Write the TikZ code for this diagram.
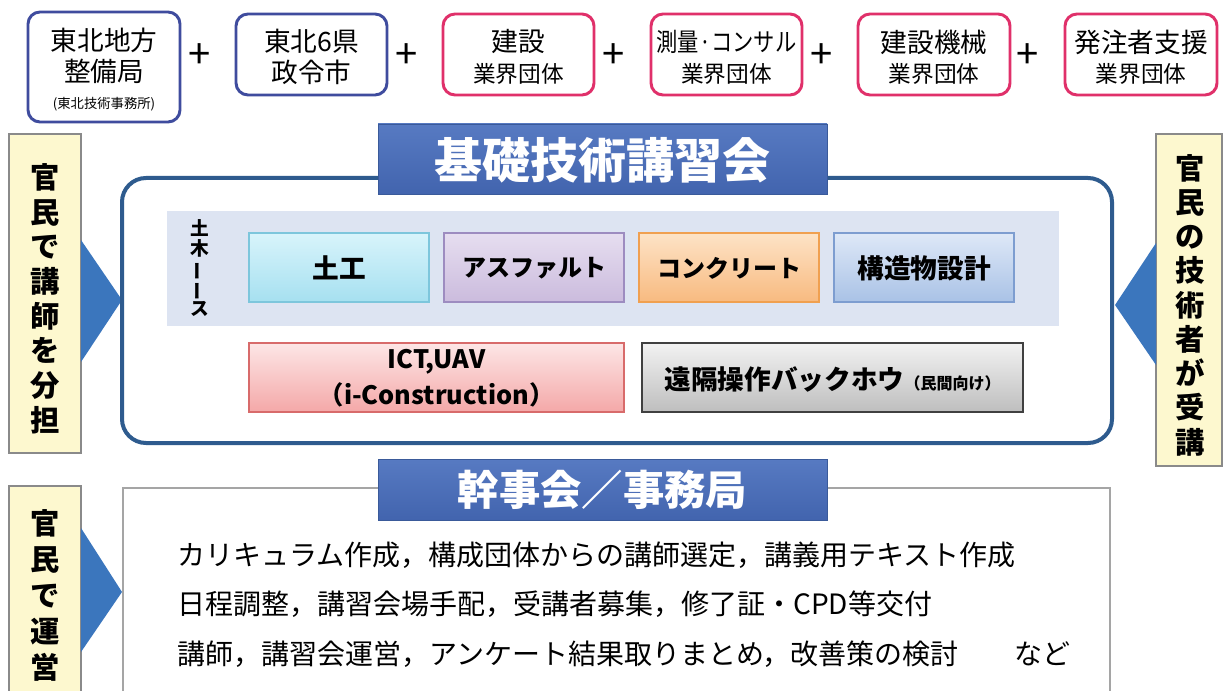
\documentclass[tikz,border=0pt]{standalone}
\usepackage{fontspec}
\usepackage{graphicx}
\newfontfamily\jp{Noto Sans CJK JP}
\usetikzlibrary{shapes.geometric}
\definecolor{tbblue}{HTML}{3F4C9E}
\definecolor{tbpink}{HTML}{E0306A}
\definecolor{ylfill}{HTML}{FDF8CF}
\definecolor{ylline}{HTML}{8A8A8A}
\definecolor{triblue}{HTML}{3B76BD}
\definecolor{mainline}{HTML}{2E5B8E}
\definecolor{bantop}{HTML}{577AC2}
\definecolor{banbot}{HTML}{4264AE}
\definecolor{banline}{HTML}{3A5A9A}
\definecolor{panel}{HTML}{DDE4F2}
\definecolor{dotop}{HTML}{D8F4FB}\definecolor{dobot}{HTML}{A6E0F0}\definecolor{doline}{HTML}{7DC6DC}
\definecolor{astop}{HTML}{E6DEF0}\definecolor{asbot}{HTML}{CBBBDD}\definecolor{asline}{HTML}{9D8CC0}
\definecolor{cotop}{HTML}{FDE3C6}\definecolor{cobot}{HTML}{F8BA80}\definecolor{coline}{HTML}{F0A050}
\definecolor{kotop}{HTML}{DEE8F7}\definecolor{kobot}{HTML}{A9C2E6}\definecolor{koline}{HTML}{7D9DD0}
\definecolor{ictop}{HTML}{FDE6E6}\definecolor{icbot}{HTML}{F4A8A8}\definecolor{icline}{HTML}{D86B6B}
\definecolor{entop}{HTML}{F2F2F2}\definecolor{enbot}{HTML}{BEBEBE}\definecolor{enline}{HTML}{404040}
\definecolor{grayline}{HTML}{A5A5A5}
\newcommand\fsz[2]{\fontsize{#1}{#2}\selectfont}
\tikzset{
  sz/.style 2 args={minimum width=#1*0.75pt, minimum height=#2*0.75pt, inner sep=0pt},
  topb/.style={draw=tbblue, line width=2.2pt, rounded corners=9pt, fill=white},
  topp/.style={draw=tbpink, line width=2.2pt, rounded corners=9pt, fill=white},
  txt/.style={inner sep=0pt, font=\jp, text=black},
  btxt/.style={inner sep=0pt, font=\jp\bfseries, text=black},
  plus/.style={inner sep=0pt, font=\jp\fsz{30}{34}},
  ybox/.style={draw=ylline, line width=1.2pt, fill=ylfill},
  tri/.style={fill=triblue, draw=none},
  mainbox/.style={draw=mainline, line width=3pt, rounded corners=18pt, fill=white},
  banner/.style={draw=banline, line width=0.6pt, top color=bantop, bottom color=banbot},
  course/.style n args={3}{draw=#3, line width=1.1pt, top color=#1, bottom color=#2},
  vtxt/.style={inner sep=0pt, align=center, font=\jp\bfseries, text=black},
}
\begin{document}
\begin{tikzpicture}[x=0.75pt,y=-0.75pt]
\useasboundingbox (0,0) rectangle (1227,691);
\fill[white] (0,0) rectangle (1227,691);

% ---- top row ----
\node[topb, sz={152}{110}] (b1) at (104,67) {};
\node[txt, font=\jp\fsz{20}{24}] (b1a) at (104,40) {東北地方};
\node[txt, font=\jp\fsz{20}{24}] (b1b) at (104,71) {整備局};
\node[txt, font=\jp\fsz{10}{12}] (b1c) at (104,104) {(東北技術事務所)};
\node[plus] (p1) at (200,56) {+};

\node[topb, sz={151}{81}] (b2) at (311.5,54.5) {};
\node[txt, font=\jp\fsz{20}{24}] (b2a) at (311.5,41) {東北6県};
\node[txt, font=\jp\fsz{20}{24}] (b2b) at (311.5,72) {政令市};
\node[plus] (p2) at (407,56) {+};

\node[topp, sz={151}{81}] (b3) at (518.5,54.5) {};
\node[txt, font=\jp\fsz{20}{24}] (b3a) at (518.5,42) {建設};
\node[txt, font=\jp\fsz{17}{20}] (b3b) at (518.5,74) {業界団体};
\node[plus] (p3) at (614,56) {+};

\node[topp, sz={151}{81}] (b4) at (726.5,54.5) {};
\node[txt, font=\jp\fsz{19}{23}] (b4a) at (726.5,42) {\scalebox{0.84}[1]{測量·コンサル}};
\node[txt, font=\jp\fsz{17}{20}] (b4b) at (726.5,74) {業界団体};
\node[plus] (p4) at (822,56) {+};

\node[topp, sz={152}{81}] (b5) at (934,54.5) {};
\node[txt, font=\jp\fsz{20}{24}] (b5a) at (934,42) {建設機械};
\node[txt, font=\jp\fsz{17}{20}] (b5b) at (934,74) {業界団体};
\node[plus] (p5) at (1028,56) {+};

\node[topp, sz={152}{81}] (b6) at (1141,54.5) {};
\node[txt, font=\jp\fsz{20}{24}] (b6a) at (1141,42) {発注者支援};
\node[txt, font=\jp\fsz{17}{20}] (b6b) at (1141,74) {業界団体};

% ---- side panels ----
\node[ybox, sz={72}{319}] (yl) at (45,293.5) {};
\node[vtxt, font=\jp\bfseries\fsz{22}{26}] (ylt) at (45,298.5) {官\\民\\で\\講\\師\\を\\分\\担};
\fill[tri] (81,240) -- (81,362) -- (122,300) -- cycle;

\node[ybox, sz={66}{332}] (yr) at (1189,300) {};
\node[vtxt, font=\jp\bfseries\fsz{22}{25.7}] (yrt) at (1190,305) {官\\民\\の\\技\\術\\者\\が\\受\\講};
\fill[tri] (1156,243) -- (1156,365) -- (1115,305) -- cycle;

\node[ybox, sz={72}{220}] (yb) at (45,596) {};
\node[vtxt, font=\jp\bfseries\fsz{22}{27}] (ybt) at (45,595) {官\\民\\で\\運\\営};
\fill[tri] (81,528) -- (81,652) -- (122,592) -- cycle;

% ---- main course box ----
\node[mainbox, sz={990}{265}] (mb) at (617,310.5) {};
\node[banner, sz={449}{70}] (ban1) at (602.5,159) {};
\node[inner sep=0pt, font=\jp\bfseries\fsz{36}{40}, text=white] (ban1t) at (602.5,160) {基礎技術講習会};

\node[fill=panel, draw=none, sz={892}{115}] (pan) at (613,268.5) {};
\node[vtxt, font=\jp\bfseries\fsz{14}{15}] (doboku) at (200,268) {土\\木\\\rotatebox[origin=c]{90}{ー}\\\rotatebox[origin=c]{90}{ー}\\ス};

\node[course={dotop}{dobot}{doline}, sz={180}{69}] (c1) at (339,267.5) {};
\node[btxt, font=\jp\bfseries\fsz{20}{24}] (c1t) at (339,268) {土工};
\node[course={astop}{asbot}{asline}, sz={180}{69}] (c2) at (534,267.5) {};
\node[btxt, font=\jp\bfseries\fsz{18}{22}] (c2t) at (534,268) {アスファルト};
\node[course={cotop}{cobot}{coline}, sz={180}{69}] (c3) at (729,267.5) {};
\node[btxt, font=\jp\bfseries\fsz{18}{22}] (c3t) at (729,268) {コンクリート};
\node[course={kotop}{kobot}{koline}, sz={180}{69}] (c4) at (924,267.5) {};
\node[btxt, font=\jp\bfseries\fsz{20}{24}] (c4t) at (924,268) {構造物設計};

\node[course={ictop}{icbot}{icline}, sz={375}{69}] (c5) at (436.5,377.5) {};
\node[btxt, font=\jp\bfseries\fsz{19}{22}] (c5a) at (436.5,362) {ICT,UAV};
\node[btxt, font=\jp\bfseries\fsz{19}{22}] (c5b) at (436.5,395) {（i-Construction）};
\node[course={entop}{enbot}{enline}, sz={381}{69}, line width=1.6pt] (c6) at (832.5,377.5) {};
\node[btxt, font=\jp\bfseries\fsz{20}{24}] (c6t) at (832.5,379) {遠隔操作バックホウ{\fsz{12}{14}（民間向け）}};

% ---- bottom box ----
\node[draw=grayline, line width=1.5pt, fill=white, sz={987}{230}] (bb) at (616.5,603) {};
\node[banner, sz={449}{61}] (ban2) at (602.5,489.5) {};
\node[inner sep=0pt, font=\jp\bfseries\fsz{31}{35}, text=white] (ban2t) at (602.5,490) {幹事会／事務局};

\node[txt, anchor=west, font=\jp\fsz{21}{24}] (l1) at (177,555) {カリキュラム作成，構成団体からの講師選定，講義用テキスト作成};
\node[txt, anchor=west, font=\jp\fsz{21}{24}] (l2) at (177,604) {日程調整，講習会場手配，受講者募集，修了証・CPD等交付};
\node[txt, anchor=west, font=\jp\fsz{21}{24}] (l3) at (177,654) {講師，講習会運営，アンケート結果取りまとめ，改善策の検討　　など};
\end{tikzpicture}
\end{document}
